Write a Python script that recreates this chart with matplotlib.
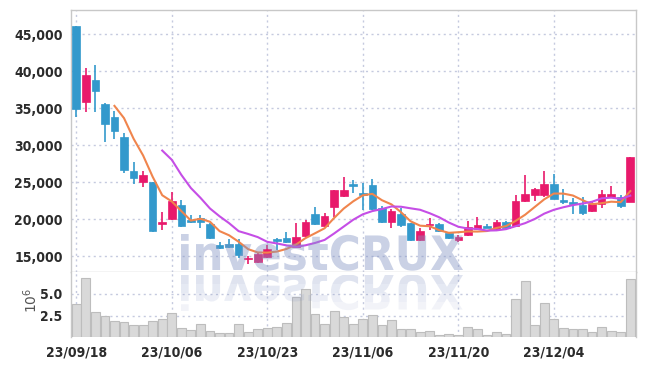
import numpy as np
import pandas as pd
import matplotlib
matplotlib.use('Agg')
import matplotlib.pyplot as plt
import matplotlib.transforms as mtransforms
from matplotlib.textpath import TextPath
from matplotlib.patches import PathPatch, Rectangle
from matplotlib.font_manager import FontProperties
from matplotlib.ticker import FuncFormatter

# daily OHLC (KRW) and volume (millions), 2023-09-18 .. 2023-12-14
opens = [46100, 35900, 38830, 35580, 33790, 31130, 26530, 25090, 25050, 19400,
         20050, 21940, 19950, 20130, 19370, 16500, 16670, 16630, 14600, 14280,
         14960, 17300, 17530, 16310, 17710, 20720, 19150, 21620, 23200, 24650,
         23450, 24640, 21570, 19600, 20720, 19500, 17210, 19180, 19370, 18150,
         17210, 17880, 18740, 19060, 18650, 19680, 19060, 22440, 23330, 23290,
         24820, 22500, 22220, 21940, 21170, 22030, 22980, 22980, 22390]
highs = [46150, 40400, 40850, 35680, 34640, 31620, 27710, 26570, 25050, 21030,
         23650, 22570, 20620, 20550, 19500, 16900, 17350, 17350, 15050, 15500,
         16500, 17530, 18240, 19470, 19870, 21620, 20820, 24000, 25760, 25350,
         24900, 25450, 21800, 21440, 21490, 19550, 18790, 20230, 19500, 18250,
         17880, 19770, 20270, 19410, 19910, 19780, 23250, 25950, 24280, 26570,
         26080, 24050, 22840, 23070, 22390, 23960, 24500, 23290, 28400]
lows = [33870, 34450, 34500, 30490, 30810, 26300, 24740, 24410, 18330, 18560,
        19910, 18930, 19470, 18800, 17390, 15990, 16170, 14740, 13970, 14100,
        14820, 15850, 16850, 16170, 17570, 19300, 19010, 20360, 22980, 23600,
        21250, 21250, 19500, 18790, 18930, 17120, 17030, 18520, 18290, 17400,
        16940, 17750, 18560, 18790, 18560, 18740, 18930, 22300, 22520, 23070,
        22700, 22030, 20720, 20630, 21030, 21490, 22900, 21490, 22390]
closes = [34950, 39500, 37380, 32880, 31940, 26670, 25630, 26030, 18470, 19500,
          22480, 19150, 19600, 19680, 17480, 16170, 16310, 15230, 14680, 15270,
          16040, 17030, 16990, 17620, 19640, 19330, 20410, 23960, 23960, 24550,
          23350, 21400, 19680, 21130, 19280, 17210, 18430, 19300, 18470, 17500,
          17620, 18930, 19240, 18830, 19600, 18870, 22440, 23420, 24050, 24780,
          22750, 22400, 22120, 20900, 22080, 23420, 23420, 21800, 28380]
volumes = [3.85, 6.84, 2.89, 2.47, 1.89, 1.77, 1.43, 1.43, 1.89, 2.12,
           2.81, 1.05, 0.82, 1.54, 0.70, 0.47, 0.47, 1.54, 0.62, 0.93,
           1.05, 1.16, 1.66, 4.65, 5.54, 2.70, 1.50, 3.00, 2.31, 1.54,
           2.08, 2.58, 1.39, 1.97, 0.93, 0.93, 0.62, 0.78, 0.24, 0.35,
           0.24, 1.24, 0.93, 0.24, 0.58, 0.39, 4.46, 6.46, 1.43, 3.93,
           2.08, 1.05, 0.93, 0.93, 0.62, 1.16, 0.74, 0.62, 6.69]
tick_idx = [0, 10, 20, 30, 40, 50]
tick_labels = ['23/09/18', '23/10/06', '23/10/23', '23/11/06', '23/11/20', '23/12/04']
price_ticks = [15000, 20000, 25000, 30000, 35000, 40000, 45000]
vol_ticks = [2.5, 5.0]

UP = '#e8196b'
DOWN = '#3399cc'
GRID = '#c5cadf'
TXT = '#2b2b2b'
tick_fp = FontProperties(family='DejaVu Sans', stretch='condensed', weight='bold', size=10)

df = pd.DataFrame({'o': opens, 'h': highs, 'l': lows, 'c': closes, 'v': volumes})
df['ma5'] = df['c'].rolling(5).mean()
df['ma10'] = df['c'].rolling(10).mean()
x = np.arange(len(df))

fig = plt.figure(figsize=(6.45, 3.66), dpi=100)
W, H = 645, 366
ax = fig.add_axes([71 / W, 1 - 272 / H, (636 - 71) / W, 262 / H])
axv = fig.add_axes([71 / W, 1 - 337.4 / H, (636 - 71) / W, 65.4 / H], sharex=ax)

# candles
col = [UP if c >= o else DOWN for o, c in zip(df['o'], df['c'])]
body_lo = np.minimum(df['o'], df['c'])
body_h = np.maximum(np.abs(df['c'] - df['o']), 180)
ax.vlines(x, df['l'], df['h'], colors=col, linewidth=1.2, zorder=3)
ax.bar(x, body_h, bottom=body_lo, width=0.8, color=col, edgecolor=col, linewidth=0.5, zorder=4)

# moving averages
ax.plot(x, df['ma5'], color='#f0854d', linewidth=1.5, zorder=5)
ax.plot(x, df['ma10'], color='#c54ee6', linewidth=1.5, zorder=5)

ax.set_ylim(12890, 48280)
ax.set_xlim(-0.55, 58.6)
ax.set_yticks(price_ticks)
ax.yaxis.set_major_formatter(FuncFormatter(lambda v, p: f'{int(v):,}'))
ax.set_xticks(tick_idx)
ax.grid(True, color=GRID, linestyle=(0, (1.5, 2.5)), linewidth=1)
ax.tick_params(axis='both', length=0, colors=TXT, pad=6)
ax.tick_params(axis='x', labelbottom=False)
for lab in ax.get_yticklabels():
    lab.set_fontproperties(tick_fp)

# volume
axv.bar(x, df['v'], width=0.92, color='#d9d9d9', edgecolor='#bdbdbd', linewidth=0.8, zorder=3)
axv.set_ylim(0, 7.53)
axv.set_yticks(vol_ticks)
axv.set_yticklabels(['2.5', '5.0'])
axv.set_xticks(tick_idx)
axv.set_xticklabels(tick_labels)
axv.grid(True, color=GRID, linestyle=(0, (1.5, 2.5)), linewidth=1)
axv.tick_params(axis='both', length=0, colors=TXT, pad=6)
for lab in axv.get_yticklabels() + axv.get_xticklabels():
    lab.set_fontproperties(tick_fp)
axv.set_ylabel(r'$10^6$', fontsize=10, color='#555555')
axv.yaxis.set_label_coords(-0.055, 0.56)

for a in (ax, axv):
    for s in a.spines.values():
        s.set_color('#c8c8c8')
        s.set_linewidth(1)
axv.spines['bottom'].set_visible(False)
axv.spines['top'].set_visible(False)

# watermark with reflection
fp = FontProperties(family='DejaVu Sans', weight='bold')
tp = TextPath((0, 0), 'investCRUX', size=100, prop=fp)
ext = tp.get_extents()
sx = 282 / ext.width
sy = 36 / ext.y1
t_main = mtransforms.Affine2D().translate(-ext.x0, 0).scale(sx, sy).translate(181, H - 270)
fig.add_artist(PathPatch(tp, transform=t_main, facecolor='#8192c3', edgecolor='none',
                         alpha=0.42, zorder=6))
t_ref = mtransforms.Affine2D().translate(-ext.x0, 0).scale(sx, -sy).translate(181, H - 275)
bands = [(275, 284, 0.25), (284, 293, 0.2), (293, 302, 0.15), (302, 313, 0.1)]
for y0, y1, al in bands:
    pp = PathPatch(tp, transform=t_ref, facecolor='#8192c3', edgecolor='none', alpha=al, zorder=6)
    fig.add_artist(pp)
    clip = Rectangle((0, H - y1), W, y1 - y0, transform=mtransforms.IdentityTransform())
    pp.set_clip_path(clip)

fig.savefig('out.png', dpi=100)
